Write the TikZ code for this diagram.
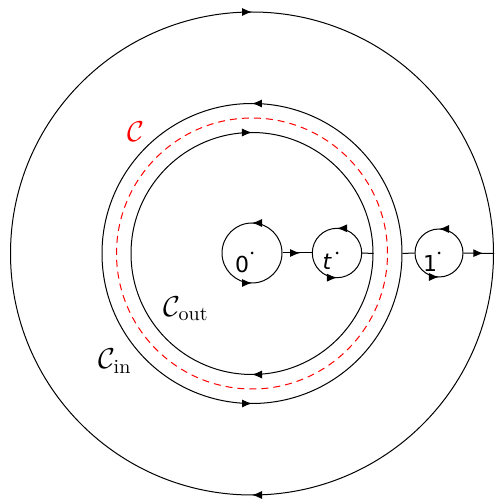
\documentclass[tikz,border=0pt]{standalone}
\usepackage{fontspec}
\newfontfamily\lblfont{DejaVu Sans}
\usetikzlibrary{arrows.meta,decorations.markings}
\tikzset{
  ring/.style={circle, draw, inner sep=0pt, line width=0.5pt, minimum size=#1},
  ccw/.style={decoration={markings,
      mark=at position 0.25 with {\arrow{Latex[length=5pt,width=4pt]}},
      mark=at position 0.75 with {\arrow{Latex[length=5pt,width=4pt]}}},
      postaction={decorate}},
  cwise/.style={decoration={markings,
      mark=at position 0.25 with {\arrowreversed{Latex[length=5pt,width=4pt]}},
      mark=at position 0.75 with {\arrowreversed{Latex[length=5pt,width=4pt]}}},
      postaction={decorate}},
  midarrow/.style={line width=0.5pt, decoration={markings,
      mark=at position #1 with {\arrow{Latex[length=5pt,width=4pt]}}},
      postaction={decorate}},
  conn/.style={line width=0.5pt},
  lbl/.style={inner sep=0pt},
  ptlbl/.style={inner sep=0pt, font=\lblfont\fontsize{11}{13}\selectfont},
  dotmark/.style={fill=black},
}
\begin{document}
\begin{tikzpicture}[x=0.5pt,y=0.5pt]
\useasboundingbox (0,0) rectangle (494,499);
\coordinate (ctr) at (252,245.5);
% big circles
\node[ring=241.5pt, cwise] (outer) at (ctr) {};
\node[ring=150pt, ccw] (cin) at (ctr) {};
\node[ring=121pt, cwise] (cout) at (ctr) {};
\node[circle, inner sep=0pt, minimum size=135.5pt, draw=red, line width=0.5pt,
      dash pattern=on 3.5pt off 2.5pt] (cc) at (ctr) {};
% small circles
\node[ring=30pt, ccw] (c0) at (252,246) {};
\node[ring=24.7pt, ccw] (ct) at (337,246) {};
\node[ring=24pt, ccw] (c1) at (439,246) {};
% connectors
\draw[midarrow=0.6] (c0.east) -- (ct.west);
\draw[conn] (ct.east) -- (cout.east);
\draw[conn] (cin.east) -- (c1.west);
\draw[midarrow=0.65] (c1.east) -- (outer.east);
% dots
\fill[dotmark] (c0.center) circle[radius=1.5];
\fill[dotmark] (ct.center) circle[radius=1.5];
\fill[dotmark] (c1.center) circle[radius=1.5];
% labels
\node[ptlbl] (l0) at ([shift={(-10,-11)}]c0.center) {0};
\node[ptlbl] (lt) at ([shift={(-10,-9)}]ct.center) {\itshape t};
\node[ptlbl] (l1) at ([shift={(-9,-10)}]c1.center) {1};
\node[lbl, text=red] (lc) at (135.5,367) {\Large$\mathcal{C}$};
\node[lbl] (lout) at (186,190) {\Large$\mathcal{C}_{\mathrm{out}}$};
\node[lbl] (lin) at (115,138) {\Large$\mathcal{C}_{\mathrm{in}}$};
\end{tikzpicture}
\end{document}
